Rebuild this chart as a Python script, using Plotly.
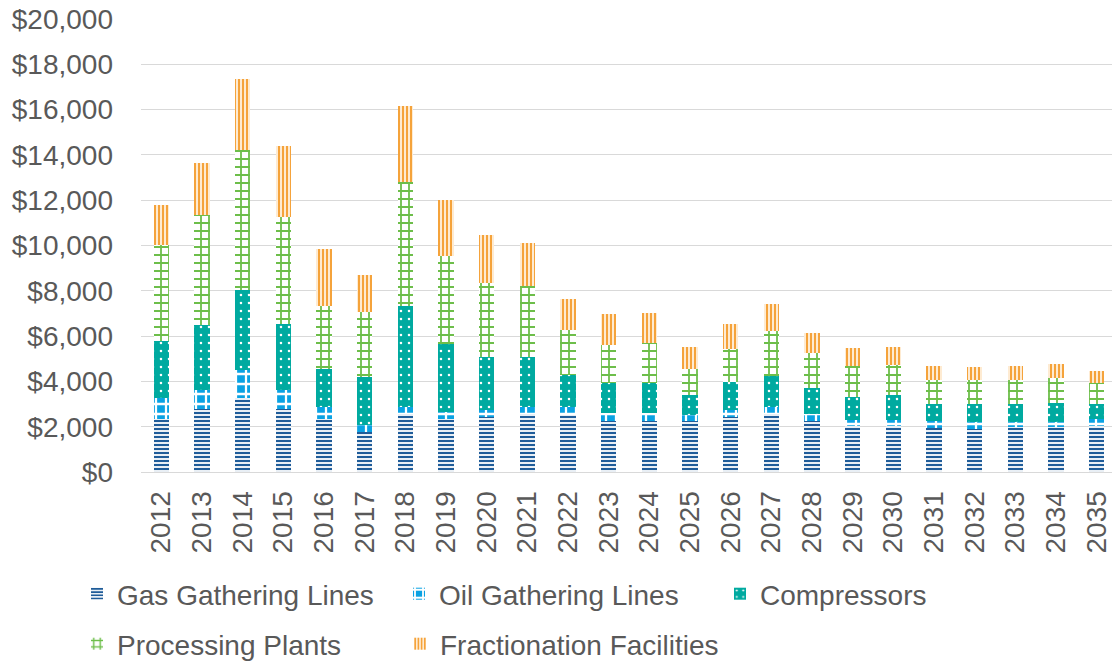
import plotly.graph_objects as go

years = [str(y) for y in range(2012, 2036)]

gas_gathering = [2350, 2780, 3270, 2780, 2350, 1750, 2560, 2340, 2450, 2560, 2530, 2230,
                 2230, 2230, 2410, 2560, 2230, 2010, 2010, 1940, 1900, 1970, 1970, 2010]
oil_gathering = [900, 850, 1250, 820, 540, 340, 290, 310, 300, 290, 340, 370,
                 370, 300, 340, 290, 330, 300, 300, 290, 290, 220, 220, 330]
compressors = [2530, 2840, 3530, 2930, 1650, 2090, 4460, 3000, 2330, 2220, 1430, 1320,
               1350, 880, 1210, 1410, 1150, 1000, 1070, 780, 830, 830, 860, 680]
processing = [4240, 4870, 6180, 4750, 2790, 2890, 5490, 3900, 3270, 3150, 1960, 1690,
              1740, 1130, 1490, 1970, 1550, 1350, 1350, 1030, 1020, 1060, 1100, 910]
fractionation = [1770, 2320, 3120, 3120, 2530, 1620, 3370, 2470, 2100, 1880, 1360, 1360,
                 1350, 970, 1090, 1190, 880, 810, 780, 620, 590, 590, 630, 510]

series_names = ["Gas Gathering Lines", "Oil Gathering Lines", "Compressors",
                "Processing Plants", "Fractionation Facilities"]

FONT = "Liberation Sans, Arial, sans-serif"
TXT = "#595959"
FS = 28

styles = [
    dict(color="#1F5C99", pattern=dict(shape="-", fgcolor="#1F5C99", bgcolor="white",
                                       size=4, solidity=0.55, fillmode="replace")),
    dict(color="#0AA2E3", pattern=dict(shape="+", fgcolor="white", bgcolor="#0AA2E3",
                                       size=10, solidity=0.4, fillmode="replace")),
    dict(color="#00AAA0", pattern=dict(shape=".", fgcolor="white", bgcolor="#00AAA0",
                                       size=8, solidity=0.08, fillmode="replace")),
    dict(color="#6DBE4A", pattern=dict(shape="+", fgcolor="#6DBE4A", bgcolor="white",
                                       size=8, solidity=0.4, fillmode="replace")),
    dict(color="#F5A33B", pattern=dict(shape="|", fgcolor="#F5A33B", bgcolor="#FFF3E3",
                                       size=4, solidity=0.55, fillmode="replace")),
]

data = [gas_gathering, oil_gathering, compressors, processing, fractionation]
legend_ids = ["legend", "legend2", "legend3", "legend4", "legend5"]

fig = go.Figure()
for name, vals, st, lid in zip(series_names, data, styles, legend_ids):
    fig.add_trace(go.Bar(
        x=years, y=vals, name=name,
        marker=dict(color=st["color"], pattern=st["pattern"], line=dict(width=0)),
        legend=lid,
    ))

W, H = 1112, 664
# legend positions (text start x, row center y) in pixels
leg_pos = [(117, 594), (439, 594), (760, 594), (117, 644), (440, 644)]

legend_layouts = {}
for lid, (px, py) in zip(legend_ids, leg_pos):
    legend_layouts[lid] = dict(
        xref="container", yref="container",
        x=(px - 40) / W, y=1 - py / H,
        xanchor="left", yanchor="middle",
        orientation="h",
        font=dict(family=FONT, size=FS, color=TXT),
        bgcolor="rgba(0,0,0,0)",
        itemwidth=30,
    )

fig.update_layout(
    width=W, height=H,
    barmode="stack",
    bargap=0.62,
    plot_bgcolor="white",
    paper_bgcolor="white",
    margin=dict(l=141, r=0, t=19, b=192, autoexpand=False),
    font=dict(family=FONT, size=FS, color=TXT),
    showlegend=True,
    **legend_layouts,
    xaxis=dict(
        type="category",
        range=[-0.5, 23.38],
        tickangle=-90,
        showgrid=False,
        showline=True,
        linecolor="#D9D9D9",
        linewidth=1,
        ticks="",
        automargin=False,
        ticklabelstandoff=7,
        tickfont=dict(family=FONT, size=FS, color=TXT),
    ),
    yaxis=dict(
        range=[0, 20000],
        dtick=2000,
        tickprefix="$",
        tickformat=",.0f",
        showgrid=True,
        gridcolor="#D9D9D9",
        gridwidth=1,
        zeroline=False,
        showline=False,
        ticks="",
        automargin=False,
        ticklabelstandoff=27,
        tickfont=dict(family=FONT, size=FS, color=TXT),
    ),
)

fig.write_html(
    "out.html",
    config={"displayModeBar": False},
    post_script="document.body.style.margin='0';document.body.style.overflow='hidden';",
)
